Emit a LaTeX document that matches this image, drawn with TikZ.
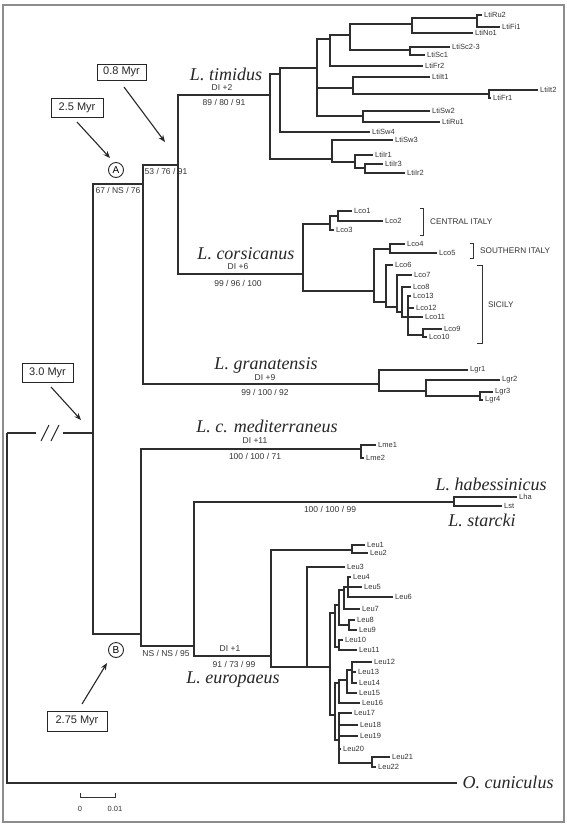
\documentclass[tikz,border=0pt]{standalone}
\usepackage{fontspec}
\setmainfont{Liberation Sans}
\newfontfamily\spfont{Liberation Serif}
\usetikzlibrary{arrows.meta}
\newcommand\tleaf[3]{\coordinate (#1) at (#2); \node[leaf] (#1t) at (#1) {#3};}
\begin{document}
\begin{tikzpicture}[x=1pt,y=-1pt,
  br/.style={line width=1.1pt, draw=black!82},
  leaf/.style={anchor=west, inner sep=2pt, text=black!80, font=\fontsize{7.5}{8}\selectfont},
  spec/.style={anchor=base, inner sep=0pt, text=black!85, font=\spfont\itshape\fontsize{18}{20}\selectfont},
  supp/.style={inner sep=0pt, text=black!80, font=\fontsize{8.5}{9}\selectfont},
  myr/.style={draw=black!85, line width=1pt, inner sep=0pt, text=black!85, font=\fontsize{11}{12}\selectfont},
  circ/.style={circle, draw=black!85, line width=0.9pt, minimum size=15pt, inner sep=0pt, font=\fontsize{10}{10}\selectfont},
  arr/.style={-{Stealth[length=7pt,width=5.5pt]}, line width=1.1pt, draw=black!85},
  region/.style={anchor=west, inner sep=0pt, text=black!80, font=\fontsize{8.2}{9}\selectfont},
  frame/.style={draw=black!45, line width=1.5pt}]
\useasboundingbox (0,0) rectangle (567,825);
\draw[frame] (3,5) rectangle (564,822);

% ---------- backbone ----------
\coordinate (root) at (7,433);
\coordinate (brkA) at (36,433);
\coordinate (brkB) at (63,433);
\coordinate (n0) at (93,433);
\coordinate (nA) at (143,184);
\coordinate (nB) at (141,634);
\coordinate (ocu) at (457,783);
\draw[br] (root) -- (brkA);
\draw[br] (brkB) -- (n0);
\draw[br] (root) |- (ocu);
\draw[line width=1pt, black!85] (41,441) -- (49,425) (51,441) -- (59,425);

% ---------- A clade ----------
\coordinate (tc) at (178,165);
\coordinate (gra) at (379,384);
\coordinate (tim) at (270,95);
\coordinate (cor) at (303,274);
\coordinate (t1) at (280,74);
\coordinate (t2) at (317,68);
\coordinate (t3) at (330,39);
\coordinate (t4) at (350,35);
\coordinate (t5) at (412,24);
\coordinate (t6) at (477,18);
\coordinate (t7) at (410,50);
\coordinate (t8) at (353,88);
\coordinate (t9) at (489,94);
\coordinate (t10) at (363,116);
\coordinate (t11) at (332,159);
\coordinate (t12) at (355,162);
\coordinate (t13) at (365,168);
\tleaf{lRu2}{482,15}{LtiRu2}
\tleaf{lFi1}{500,27}{LtiFi1}
\tleaf{lNo1}{473,33}{LtiNo1}
\tleaf{lSc23}{450,47}{LtiSc2-3}
\tleaf{lSc1}{425,55}{LtiSc1}
\tleaf{lFr2}{423,66}{LtiFr2}
\tleaf{lIt1}{430,77}{LtiIt1}
\tleaf{lIt2}{538,90}{LtiIt2}
\tleaf{lFr1}{491,98}{LtiFr1}
\tleaf{lSw2}{430,111}{LtiSw2}
\tleaf{lRu1}{440,122}{LtiRu1}
\tleaf{lSw4}{370,132}{LtiSw4}
\tleaf{lSw3}{393,140}{LtiSw3}
\tleaf{lIr1}{373,155}{LtiIr1}
\tleaf{lIr3}{383,164}{LtiIr3}
\tleaf{lIr2}{405,173}{LtiIr2}

\coordinate (c1) at (330,224);
\coordinate (c2) at (338,216);
\coordinate (c3) at (374,291);
\coordinate (c4) at (390,249);
\coordinate (c5) at (386,302);
\coordinate (c6) at (397,307);
\coordinate (c7) at (402,312);
\coordinate (c8) at (408,317);
\coordinate (c9) at (423,335);
\tleaf{lco1}{352,211}{Lco1}
\tleaf{lco2}{383,221}{Lco2}
\tleaf{lco3}{334,230}{Lco3}
\tleaf{lco4}{405,244}{Lco4}
\tleaf{lco5}{437,253}{Lco5}
\tleaf{lco6}{393,265}{Lco6}
\tleaf{lco7}{412,275}{Lco7}
\tleaf{lco8}{411,287}{Lco8}
\tleaf{lco13}{411,296}{Lco13}
\tleaf{lco12}{414,308}{Lco12}
\tleaf{lco11}{423,317}{Lco11}
\tleaf{lco9}{442,329}{Lco9}
\tleaf{lco10}{427,337}{Lco10}

\coordinate (g1) at (426,391);
\coordinate (g2) at (480,396);
\tleaf{lgr1}{468,370}{Lgr1}
\tleaf{lgr2}{500,380}{Lgr2}
\tleaf{lgr3}{493,392}{Lgr3}
\tleaf{lgr4}{483,400}{Lgr4}

% ---------- B clade ----------
\coordinate (med) at (361,449);
\coordinate (nB2) at (194,646);
\coordinate (hab) at (454,502);
\coordinate (eu) at (271,656);
\tleaf{lme1}{376,445}{Lme1}
\tleaf{lme2}{364,458}{Lme2}
\tleaf{lha}{517,497}{Lha}
\tleaf{lst}{502,506}{Lst}

\coordinate (e1) at (352,550);
\coordinate (e2) at (307,667);
\coordinate (e3) at (330,667);
\coordinate (e4) at (335,613);
\coordinate (e5) at (339,605);
\coordinate (e6) at (344,590);
\coordinate (e7) at (348,587);
\coordinate (e8) at (349,625);
\coordinate (e9) at (339,647);
\coordinate (e10) at (335,715);
\coordinate (e11) at (339,683);
\coordinate (e12) at (347,680);
\coordinate (e13) at (352,670);
\coordinate (e14) at (339,740);
\coordinate (e15) at (372,763);
\tleaf{leu1}{365,545}{Leu1}
\tleaf{leu2}{368,553}{Leu2}
\tleaf{leu3}{345,567}{Leu3}
\tleaf{leu4}{351,577}{Leu4}
\tleaf{leu5}{362,587}{Leu5}
\tleaf{leu6}{393,597}{Leu6}
\tleaf{leu7}{360,609}{Leu7}
\tleaf{leu8}{355,620}{Leu8}
\tleaf{leu9}{357,630}{Leu9}
\tleaf{leu10}{343,640}{Leu10}
\tleaf{leu11}{357,650}{Leu11}
\tleaf{leu12}{372,662}{Leu12}
\tleaf{leu13}{356,672}{Leu13}
\tleaf{leu14}{357,683}{Leu14}
\tleaf{leu15}{357,693}{Leu15}
\tleaf{leu16}{360,703}{Leu16}
\tleaf{leu17}{352,713}{Leu17}
\tleaf{leu18}{358,725}{Leu18}
\tleaf{leu19}{358,736}{Leu19}
\tleaf{leu20}{341,749}{Leu20}
\tleaf{leu21}{390,757}{Leu21}
\tleaf{leu22}{376,767}{Leu22}

\foreach \a/\b in {n0/nA, n0/nB, nA/tc, nA/gra, tc/tim, tc/cor,
  tim/t1, tim/t11, t1/t2, t1/lSw4, t2/t3, t2/t8, t2/t10, t3/t4, t3/lFr2,
  t4/t5, t4/t7, t5/t6, t5/lNo1, t6/lRu2, t6/lFi1, t7/lSc23, t7/lSc1,
  t8/lIt1, t8/t9, t9/lIt2, t9/lFr1, t10/lSw2, t10/lRu1, t11/lSw3, t11/t12,
  t12/lIr1, t12/t13, t13/lIr3, t13/lIr2,
  cor/c1, cor/c3, c1/c2, c1/lco3, c2/lco1, c2/lco2, c3/c4, c3/c5, c4/lco4, c4/lco5,
  c5/lco6, c5/c6, c6/lco7, c6/c7, c7/lco8, c7/c8, c8/lco13, c8/lco12, c8/lco11, c8/c9,
  c9/lco9, c9/lco10,
  gra/lgr1, gra/g1, g1/lgr2, g1/g2, g2/lgr3, g2/lgr4,
  nB/med, nB/nB2, nB2/hab, nB2/eu, med/lme1, med/lme2, hab/lha, hab/lst,
  eu/e1, eu/e2, e1/leu1, e1/leu2, e2/leu3, e2/e3, e3/e4, e3/e10, e4/e5, e4/e9,
  e5/e6, e5/e8, e6/e7, e6/leu7, e7/leu4, e7/leu5, e7/leu6, e8/leu8, e8/leu9,
  e9/leu10, e9/leu11, e10/e11, e10/e14, e11/e12, e11/leu16, e12/e13, e12/leu15,
  e13/leu12, e13/leu13, e13/leu14, e14/leu17, e14/leu18, e14/leu19, e14/leu20,
  e14/e15, e15/leu21, e15/leu22}
  \draw[br] (\a) |- (\b);

% ---------- species names and supports ----------
\node[spec] (sTim) at (226,80) {L. timidus};
\node[supp] (diTim) at (222,88) {DI +2};
\node[supp] (bsTim) at (224,102) {89 / 80 / 91};
\node[supp] (bsTC) at (166,171) {53 / 76 / 91};
\node[supp] (bsA) at (118,190) {67 / NS / 76};
\node[circ] (cA) at (116,170) {A};
\node[spec] (sCor) at (246,259) {L. corsicanus};
\node[supp] (diCor) at (238,267) {DI +6};
\node[supp] (bsCor) at (238,283) {99 / 96 / 100};
\node[spec] (sGra) at (266,369) {L. granatensis};
\node[supp] (diGra) at (265,378) {DI +9};
\node[supp] (bsGra) at (265,392) {99 / 100 / 92};
\node[spec] (sMed) at (267,432) {L. c. mediterraneus};
\node[supp] (diMed) at (255,441) {DI +11};
\node[supp] (bsMed) at (255,456) {100 / 100 / 71};
\node[spec] (sHab) at (491,490) {L. habessinicus};
\node[supp] (bsHab) at (330,509) {100 / 100 / 99};
\node[spec] (sSta) at (482,526) {L. starcki};
\node[supp] (bsB2) at (166,653) {NS / NS / 95};
\node[circ] (cB) at (116,650) {B};
\node[supp] (diEu) at (230,649) {DI +1};
\node[supp] (bsEu) at (234,664) {91 / 73 / 99};
\node[spec] (sEu) at (233,683) {L. europaeus};
\node[spec] (sOcu) at (508,788) {O. cuniculus};

% ---------- region brackets ----------
\draw[line width=1pt, black!80] (420,208) -- (423,208) -- (423,235) -- (420,235);
\node[region] (rCen) at (430,222) {CENTRAL ITALY};
\draw[line width=1pt, black!80] (470,243) -- (473,243) -- (473,258) -- (470,258);
\node[region] (rSou) at (480,251) {SOUTHERN ITALY};
\draw[line width=1pt, black!80] (477,265) -- (482,265) -- (482,343) -- (477,343);
\node[region] (rSic) at (488,305) {SICILY};

% ---------- dating boxes ----------
\node[myr, minimum width=49pt, minimum height=16pt] (m08) at (121.5,72) {0.8 Myr};
\node[myr, minimum width=52pt, minimum height=19pt] (m25) at (77,107.5) {2.5 Myr};
\node[myr, minimum width=51pt, minimum height=19pt] (m30) at (47.5,372.5) {3.0 Myr};
\node[myr, minimum width=60pt, minimum height=20pt] (m275) at (77,721) {2.75 Myr};
\coordinate (a08s) at (124,87);   \coordinate (a08e) at (165,142);
\coordinate (a25s) at (77,122);   \coordinate (a25e) at (110,158);
\coordinate (a30s) at (51,387);   \coordinate (a30e) at (81,420);
\coordinate (a275s) at (82,704);  \coordinate (a275e) at (107,663);
\draw[arr] (a08s) -- (a08e);
\draw[arr] (a25s) -- (a25e);
\draw[arr] (a30s) -- (a30e);
\draw[arr] (a275s) -- (a275e);

% ---------- scale bar ----------
\coordinate (sb0) at (80,797);
\coordinate (sb1) at (115,797);
\draw[line width=0.9pt, black!80] ([yshift=4pt]sb0) -- (sb0) -- (sb1) -- ([yshift=4pt]sb1);
\node[supp, font=\fontsize{7.5}{8}\selectfont] (sbl0) at (80,809) {0};
\node[supp, font=\fontsize{7.5}{8}\selectfont] (sbl1) at (115,809) {0.01};
\end{tikzpicture}
\end{document}
